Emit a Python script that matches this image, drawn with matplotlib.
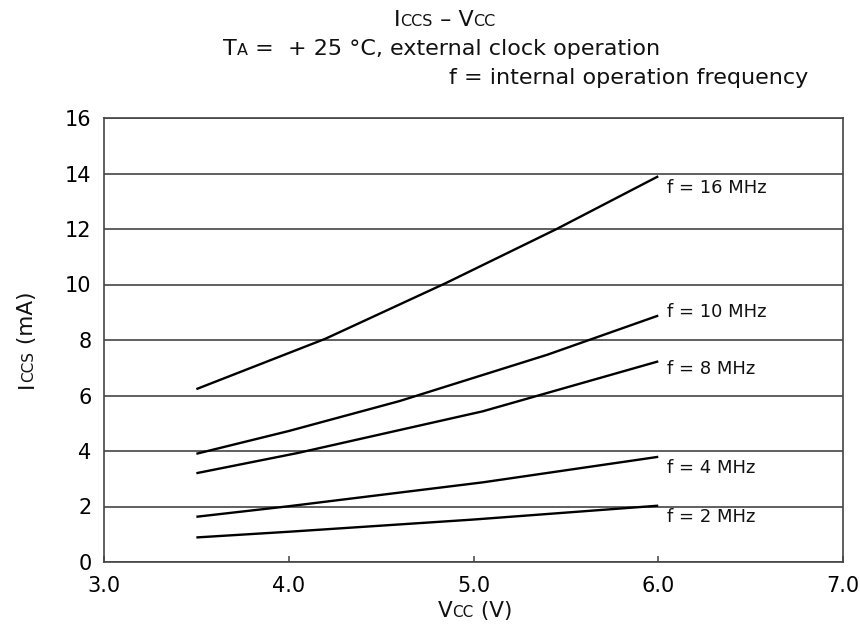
import matplotlib
matplotlib.use("Agg")
import matplotlib.pyplot as plt
from matplotlib.transforms import IdentityTransform

plt.rcParams['font.family'] = ['DejaVu Sans']

# ---- data ----
v_16 = [3.5, 4.2, 4.85, 5.45, 6.0]
i_16 = [6.23, 8.05, 10.05, 12.0, 13.9]
v_10 = [3.5, 4.0, 4.6, 5.4, 6.0]
i_10 = [3.9, 4.72, 5.8, 7.47, 8.88]
v_8 = [3.5, 4.05, 5.05, 6.0]
i_8 = [3.2, 3.93, 5.43, 7.23]
v_4 = [3.5, 4.0, 5.05, 6.0]
i_4 = [1.63, 2.01, 2.87, 3.79]
v_2 = [3.5, 4.0, 5.0, 6.0]
i_2 = [0.885, 1.09, 1.53, 2.03]

series_v = [v_16, v_10, v_8, v_4, v_2]
series_i = [i_16, i_10, i_8, i_4, i_2]
series_labels = ["f = 16 MHz", "f = 10 MHz", "f = 8 MHz", "f = 4 MHz", "f = 2 MHz"]
label_y = [13.47, 9.0, 6.96, 3.4, 1.62]

x_ticks = [3.0, 4.0, 5.0, 6.0, 7.0]
x_ticklabels = ["3.0", "4.0", "5.0", "6.0", "7.0"]
y_ticks = [0, 2, 4, 6, 8, 10, 12, 14, 16]
y_ticklabels = ["0", "2", "4", "6", "8", "10", "12", "14", "16"]

W, H = 860, 632
fig = plt.figure(figsize=(W / 100, H / 100), dpi=100)
ax = fig.add_axes([104 / W, (H - 562) / H, (843 - 104) / W, (562 - 118) / H])

gc = '#444444'
for v, i in zip(series_v, series_i):
    ax.plot(v, i, color='black', lw=1.7, solid_capstyle='butt', zorder=3)
for lab, y in zip(series_labels, label_y):
    ax.text(6.05, y, lab, fontsize=13, va='center', ha='left', color='#111111')

ax.set_xlim(3, 7)
ax.set_ylim(0, 16)
ax.set_xticks(x_ticks)
ax.set_xticklabels(x_ticklabels)
ax.set_yticks(y_ticks)
ax.set_yticklabels(y_ticklabels)
ax.tick_params(axis='x', direction='in', length=4, width=1.1, color=gc, labelsize=15, pad=10)
ax.tick_params(axis='y', length=0, labelsize=15, pad=9)
ax.grid(axis='y', color=gc, lw=1.2)
ax.set_axisbelow(True)
for s in ax.spines.values():
    s.set_color(gc)
    s.set_linewidth(1.2)

renderer = fig.canvas.get_renderer()


def rich(x, y, pieces, ha='left', rot=0):
    """pieces drawn one after another on a shared baseline; x,y in pixels from top-left"""
    texts, widths = [], []
    for s, size in pieces:
        t = fig.text(0, 0, s, fontsize=size, transform=IdentityTransform(),
                     ha='left', va='baseline', color='#111111')
        widths.append(t.get_window_extent(renderer).width)
        texts.append(t)
    total = sum(widths)
    frac = {'left': 0.0, 'center': 0.5, 'right': 1.0}[ha]
    if rot == 0:
        cur = x - total * frac
        for t, w in zip(texts, widths):
            t.set_position((cur, H - y))
            cur += w
    else:
        cur = (H - y) - total * frac
        for t, w in zip(texts, widths):
            t.set_rotation(90)
            t.set_rotation_mode('anchor')
            t.set_position((x, cur))
            cur += w


big, small = 16, 11.5
rich(394, 26, [("I", big), ("CCS", small), (" – V", big), ("CC", small)])
rich(223, 55, [("T", big), ("A", small), (" =  + 25 °C, external clock operation", big)])
rich(808, 84, [("f = internal operation frequency", big)], ha='right')
rich(475, 617, [("V", 15.5), ("CC", 11), (" (V)", 15.5)], ha='center')
rich(33, 340, [("I", 15.5), ("CCS", 11), (" (mA)", 15.5)], ha='center', rot=90)

fig.savefig("out.png", dpi=100)
